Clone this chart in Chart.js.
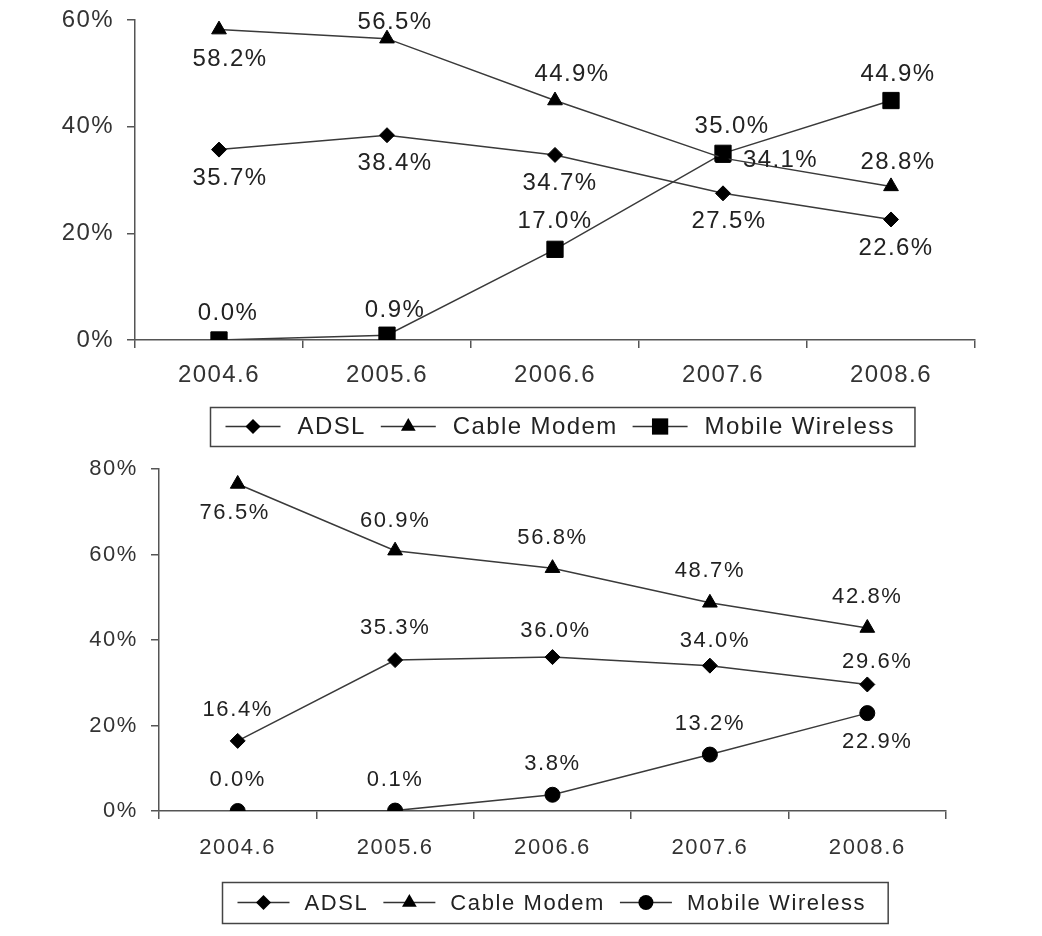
<!DOCTYPE html>
<html>
<head>
<meta charset="utf-8">
<script src="https://cdn.jsdelivr.net/npm/chart.js@4.4.1/dist/chart.umd.min.js"></script>
<style>
  html, body { margin: 0; padding: 0; background: #fff; }
  #wrap { position: relative; width: 1042px; height: 936px; }
  .box { position: absolute; left: 0; width: 1042px; }
</style>
</head>
<body>
<div id="wrap">
  <div class="box" style="top:0;height:455px"><canvas id="topChart" width="1042" height="455"></canvas></div>
  <div class="box" style="top:455px;height:481px"><canvas id="bottomChart" width="1042" height="481"></canvas></div>
</div>
<script>
// ---- data ----
const periods = ['2004.6', '2005.6', '2006.6', '2007.6', '2008.6'];
const seriesNames = ['ADSL', 'Cable Modem', 'Mobile Wireless'];

const topAdsl = [35.7, 38.4, 34.7, 27.5, 22.6];
const topCable = [58.2, 56.5, 44.9, 34.1, 28.8];
const topMobile = [0.0, 0.9, 17.0, 35.0, 44.9];
const topTicks = [0, 20, 40, 60];

const bottomAdsl = [16.4, 35.3, 36.0, 34.0, 29.6];
const bottomCable = [76.5, 60.9, 56.8, 48.7, 42.8];
const bottomMobile = [0.0, 0.1, 3.8, 13.2, 22.9];
const bottomTicks = [0, 20, 40, 60, 80];

// ---- label placement (pixel offsets from each point) ----
const topPlaces = [
  { dx: [11, 8, 5, 6, 5], dy: [29, 28, 28, 28, 29] },
  { dx: [11, 8, 17, 20, 7], dy: [30, -16, -26, 2, -24], align: ['center', 'center', 'center', 'left', 'center'] },
  { dx: [9, 8, 0, 9, 7], dy: [-27, -25, -28, -27, -26] }
];
const bottomPlaces = [
  { dx: [0, 0, 3, 5, 10], dy: [-31, -32, -26, -25, -23] },
  { dx: [-3, 0, 0, 0, 0], dy: [29, -30, -30, -32, -31] },
  { dx: [0, 0, 0, 0, 10], dy: [-31, -31, -31, -31, 29] }
];

const FONT = '"Liberation Sans", Arial, sans-serif';

// letter spacing for all canvas text (the original uses a wide Gulim-like face)
const spacing = {
  id: 'spacing',
  beforeDraw(chart, args, opts) { chart.ctx.letterSpacing = opts.value; },
  afterDraw(chart) { chart.ctx.letterSpacing = '0px'; }
};

function drawMarker(ctx, style, r, x, y) {
  ctx.beginPath();
  if (style === 'rectRot') {
    ctx.moveTo(x, y - r); ctx.lineTo(x + r, y); ctx.lineTo(x, y + r); ctx.lineTo(x - r, y);
  } else if (style === 'triangle') {
    for (let k = 0; k < 3; k++) {
      const a = k * 2 * Math.PI / 3;
      const px = x + Math.sin(a) * r, py = y - Math.cos(a) * r;
      k ? ctx.lineTo(px, py) : ctx.moveTo(px, py);
    }
  } else if (style === 'rect') {
    const s = r * Math.SQRT1_2;
    ctx.rect(x - s, y - s, 2 * s, 2 * s);
  } else {
    ctx.arc(x, y, r, 0, Math.PI * 2);
  }
  ctx.closePath();
  ctx.fill();
}

// value labels next to each point
const pointLabels = {
  id: 'pointLabels',
  afterDatasetsDraw(chart, args, opts) {
    const ctx = chart.ctx;
    ctx.save();
    ctx.letterSpacing = opts.spacing;
    ctx.font = opts.size + 'px ' + FONT;
    ctx.fillStyle = '#222';
    ctx.textBaseline = 'middle';
    chart.data.datasets.forEach((ds, di) => {
      const place = opts.places[di];
      chart.getDatasetMeta(di).data.forEach((pt, i) => {
        ctx.textAlign = place.align ? place.align[i] : 'center';
        ctx.fillText(ds.data[i].toFixed(1) + '%', pt.x + place.dx[i], pt.y + place.dy[i]);
      });
    });
    ctx.restore();
  }
};

// boxed legend: line - marker - line, then the name
const boxLegend = {
  id: 'boxLegend',
  afterDraw(chart, args, opts) {
    const ctx = chart.ctx;
    const { lineW, gapText, gapItem, padL, padR } = opts;
    ctx.save();
    ctx.letterSpacing = opts.spacing;
    ctx.font = opts.size + 'px ' + FONT;
    const items = chart.data.datasets.map(ds => ({ ds, w: ctx.measureText(ds.label).width }));
    let total = padL + padR;
    items.forEach((it, i) => { total += lineW + gapText + it.w + (i ? gapItem : 0); });
    const left = Math.round(opts.cx - total / 2) + 0.5;
    const midY = opts.top + opts.height / 2;

    ctx.strokeStyle = '#444';
    ctx.lineWidth = 1.5;
    ctx.strokeRect(left, opts.top + 0.5, total, opts.height);

    let x = left + padL;
    items.forEach((it, i) => {
      if (i) x += gapItem;
      ctx.beginPath();
      ctx.moveTo(x, midY);
      ctx.lineTo(x + lineW, midY);
      ctx.strokeStyle = '#333';
      ctx.lineWidth = 1.5;
      ctx.stroke();
      ctx.fillStyle = '#000';
      drawMarker(ctx, it.ds.pointStyle, it.ds.pointRadius, x + lineW / 2, midY);
      ctx.fillStyle = '#222';
      ctx.textAlign = 'left';
      ctx.textBaseline = 'middle';
      ctx.fillText(it.ds.label, x + lineW + gapText, midY + 1);
      x += lineW + gapText + it.w;
    });
    ctx.restore();
  }
};

function makeDataset(label, data, style, radius) {
  return {
    label,
    data,
    borderColor: '#3a3a3a',
    borderWidth: 1.5,
    backgroundColor: '#000',
    pointBackgroundColor: '#000',
    pointBorderColor: '#000',
    pointBorderWidth: 1,
    pointStyle: style,
    pointRadius: radius,
    tension: 0
  };
}

function makeChart(id, cfg) {
  const axisColor = '#555';
  return new Chart(document.getElementById(id), {
    type: 'line',
    data: {
      labels: periods,
      datasets: [
        makeDataset(seriesNames[0], cfg.adsl, 'rectRot', 7.5),
        makeDataset(seriesNames[1], cfg.cable, 'triangle', 8.5),
        makeDataset(seriesNames[2], cfg.mobile, cfg.mobileStyle, cfg.mobileRadius)
      ]
    },
    plugins: [spacing, pointLabels, boxLegend],
    options: {
      responsive: false,
      animation: false,
      layout: { padding: cfg.padding },
      scales: {
        x: {
          type: 'category',
          offset: true,
          afterFit: s => { s.height = 50; s.paddingLeft = 0; s.paddingRight = 0; },
          border: { color: axisColor, width: 1.5 },
          grid: { offset: true, drawOnChartArea: false, tickLength: 8, color: axisColor, lineWidth: 1.5 },
          ticks: { color: '#333', padding: cfg.xPad, maxRotation: 0, font: { family: FONT, size: cfg.size } }
        },
        y: {
          min: 0,
          max: cfg.ticks[cfg.ticks.length - 1],
          // fixed width, and no extra room above/below for the end labels
          afterFit: s => { s.width = cfg.yWidth; s.paddingTop = 0; s.paddingBottom = 0; },
          afterBuildTicks: s => { s.ticks = cfg.ticks.map(v => ({ value: v })); },
          border: { color: axisColor, width: 1.5 },
          grid: { drawOnChartArea: false, tickLength: 8, color: axisColor, lineWidth: 1.5 },
          ticks: { color: '#333', padding: 13, callback: v => v + '%', font: { family: FONT, size: cfg.size } }
        }
      },
      plugins: {
        legend: { display: false },
        tooltip: { enabled: false },
        spacing: { value: cfg.spacing },
        pointLabels: { places: cfg.places, size: cfg.size, spacing: cfg.spacing },
        boxLegend: Object.assign({ size: cfg.size, spacing: cfg.spacing }, cfg.legend)
      }
    }
  });
}

makeChart('topChart', {
  adsl: topAdsl, cable: topCable, mobile: topMobile, ticks: topTicks,
  mobileStyle: 'rect', mobileRadius: 11.5,
  places: topPlaces,
  padding: { left: 0, right: 67, top: 20, bottom: 65 },
  yWidth: 135, xPad: 13, size: 24, spacing: '1.4px',
  legend: { top: 407, height: 39, cx: 562, lineW: 55, gapText: 17, gapItem: 15, padL: 15, padR: 20 }
});

makeChart('bottomChart', {
  adsl: bottomAdsl, cable: bottomCable, mobile: bottomMobile, ticks: bottomTicks,
  mobileStyle: 'circle', mobileRadius: 7.5,
  places: bottomPlaces,
  padding: { left: 0, right: 96, top: 14, bottom: 75 },
  yWidth: 159, xPad: 16, size: 22, spacing: '1.6px',
  legend: { top: 427, height: 41, cx: 555, lineW: 52, gapText: 15, gapItem: 15, padL: 15, padR: 22 }
});
</script>
</body>
</html>
